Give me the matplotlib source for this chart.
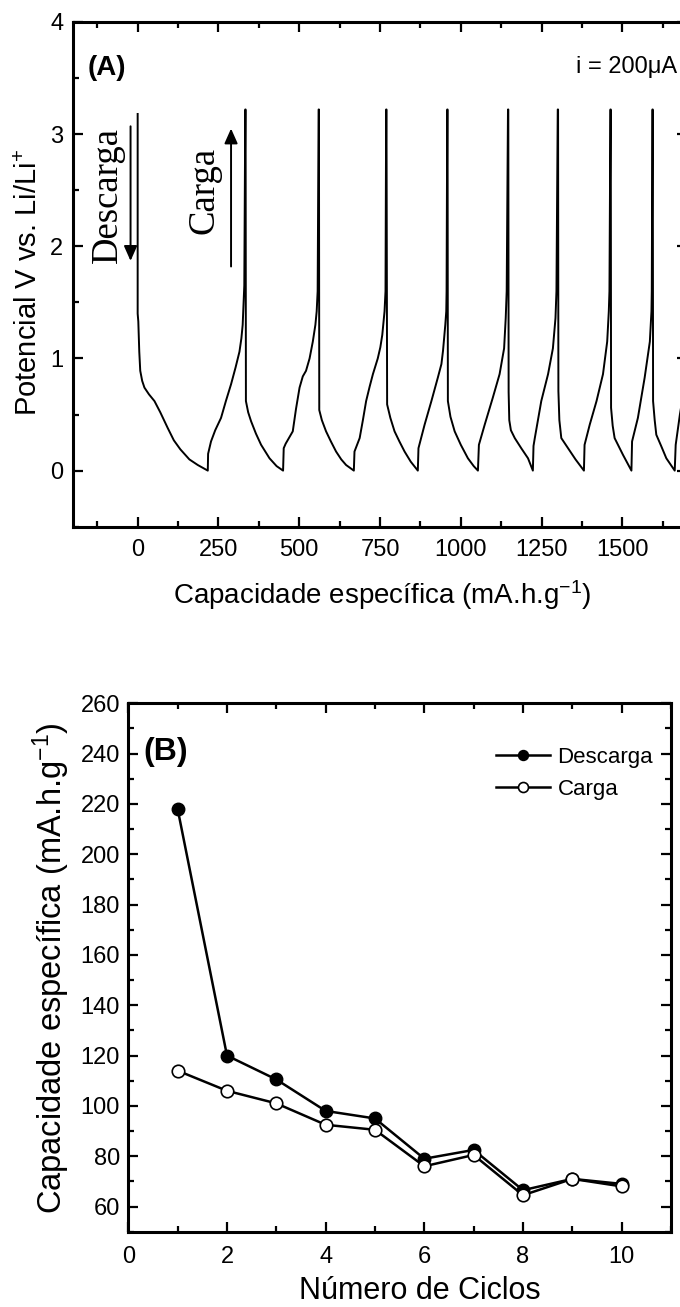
import matplotlib
matplotlib.use('Agg')
import matplotlib.pyplot as plt
from matplotlib.ticker import MultipleLocator

plt.rcParams['font.family'] = ['Liberation Sans', 'DejaVu Sans']
plt.rcParams['mathtext.fontset'] = 'custom'
plt.rcParams['mathtext.rm'] = 'Liberation Sans'
plt.rcParams['mathtext.it'] = 'Liberation Sans:italic'
plt.rcParams['mathtext.bf'] = 'Liberation Sans:bold'

# (A) galvanostatic curve (capacity in mA.h/g, potential in V)
cap_A = [
    # discharge 1
    0, 0, 2, 5, 8, 14, 21, 35, 52, 70, 93, 112, 132, 160, 186, 217,
    # charge 1
    218, 222, 227, 240, 258, 273, 289, 303, 315, 321, 325, 328, 330, 333,
    # discharge 2
    334, 335, 342, 351, 366, 382, 408, 430, 450,
    # charge 2
    452, 458, 480, 490, 501, 511, 521, 532, 542, 550, 554, 557, 560,
    # discharge 3
    561, 562, 570, 583, 598, 614, 630, 645, 669,
    # charge 3
    671, 687, 697, 707, 718, 728, 743, 751, 757, 764, 767, 769,
    # discharge 4
    770, 772, 782, 795, 810, 826, 845, 867,
    # charge 4
    869, 878, 888, 909, 929, 940, 945, 952, 955, 956, 958,
    # discharge 5
    959, 960, 968, 981, 1000, 1022, 1040, 1053,
    # charge 5
    1056, 1065, 1074, 1099, 1120, 1134, 1139, 1142, 1146,
    # discharge 6
    1147, 1148, 1150, 1155, 1167, 1187, 1208, 1223,
    # charge 6
    1225, 1229, 1249, 1270, 1285, 1293, 1296, 1300,
    # discharge 7
    1301, 1302, 1305, 1311, 1332, 1355, 1381,
    # charge 7
    1383, 1399, 1420, 1440, 1453, 1458, 1460, 1463,
    # discharge 8
    1464, 1465, 1470, 1476, 1502, 1528,
    # charge 8
    1530, 1548, 1569, 1585, 1590, 1591, 1593,
    # discharge 9
    1594, 1595, 1600, 1605, 1620, 1636, 1662,
    # charge 9
    1665, 1678, 1695, 1715, 1725, 1730,
]
pot_A = [
    3.18, 1.40, 1.33, 1.06, 0.89, 0.80, 0.74, 0.68, 0.62, 0.52, 0.38, 0.27, 0.19, 0.10, 0.05, 0.0,
    0.15, 0.20, 0.26, 0.36, 0.47, 0.62, 0.77, 0.92, 1.06, 1.18, 1.30, 1.50, 1.65, 3.22,
    3.22, 0.62, 0.52, 0.44, 0.33, 0.23, 0.11, 0.04, 0.0,
    0.20, 0.24, 0.35, 0.55, 0.74, 0.84, 0.89, 1.00, 1.15, 1.30, 1.42, 1.60, 3.22,
    3.22, 0.54, 0.45, 0.35, 0.26, 0.17, 0.10, 0.05, 0.0,
    0.17, 0.29, 0.45, 0.62, 0.75, 0.86, 1.00, 1.10, 1.21, 1.42, 1.60, 3.22,
    3.22, 0.59, 0.47, 0.35, 0.26, 0.17, 0.08, 0.0,
    0.20, 0.30, 0.41, 0.62, 0.83, 0.95, 1.07, 1.30, 1.42, 1.60, 3.22,
    3.22, 0.62, 0.48, 0.35, 0.23, 0.11, 0.04, 0.0,
    0.23, 0.32, 0.41, 0.65, 0.86, 1.09, 1.36, 1.60, 3.22,
    3.22, 0.70, 0.45, 0.36, 0.29, 0.20, 0.11, 0.0,
    0.22, 0.29, 0.62, 0.86, 1.09, 1.36, 1.60, 3.22,
    3.22, 0.71, 0.45, 0.29, 0.20, 0.10, 0.0,
    0.23, 0.41, 0.62, 0.86, 1.15, 1.42, 1.60, 3.22,
    3.22, 0.56, 0.40, 0.29, 0.14, 0.0,
    0.26, 0.47, 0.83, 1.15, 1.42, 1.60, 3.22,
    3.22, 0.62, 0.45, 0.32, 0.22, 0.11, 0.0,
    0.23, 0.50, 0.80, 1.15, 1.50, 3.22,
]

# (B) capacity per cycle
ciclos = [1, 2, 3, 4, 5, 6, 7, 8, 9, 10]
descarga = [218, 120, 110.5, 98, 95, 79, 82.5, 66.5, 71, 69]
carga = [114, 106, 101, 92.5, 90.5, 76, 80.5, 64.5, 71, 68]

fig = plt.figure(figsize=(6.8, 13.07), dpi=100)

# ---------------- panel A ----------------
axA = fig.add_axes([0.1074, 0.59702, 0.9029, 0.38615])
axA.plot(cap_A, pot_A, color='black', lw=1.4)
axA.set_xlim(-200, 1700)
axA.set_ylim(-0.5, 4)
axA.xaxis.set_major_locator(MultipleLocator(250))
axA.xaxis.set_minor_locator(MultipleLocator(125))
axA.yaxis.set_major_locator(MultipleLocator(1))
axA.yaxis.set_minor_locator(MultipleLocator(0.5))
axA.tick_params(which='both', direction='in', top=True, right=True, width=1.6)
axA.tick_params(which='major', length=7, labelsize=17)
axA.tick_params(which='minor', length=4)
axA.tick_params(axis='x', pad=9)
axA.tick_params(axis='y', pad=7)
for s in axA.spines.values():
    s.set_linewidth(2.2)

axA.set_xlabel('Capacidade específica (mA.h.g$^{-1}$)', fontsize=20)
axA.xaxis.set_label_coords(0.504, -0.102)
axA.set_ylabel('Potencial V vs. Li/Li$^{+}$', fontsize=21)
axA.yaxis.set_label_coords(-0.049, 0.484)

axA.text(-156, 3.59, '(A)', fontsize=20, fontweight='bold', ha='left', va='center')
axA.text(1668, 3.6, 'i = 200μA', fontsize=17, ha='right', va='center')

axA.text(-93, 2.46, 'Descarga', rotation=90, ha='center', va='center',
         family='Liberation Serif', fontsize=26.5)
axA.text(206, 2.50, 'Carga', rotation=90, ha='center', va='center',
         family='Liberation Serif', fontsize=26.5)
arr = dict(arrowstyle='-|>,head_length=0.9,head_width=0.4', color='black',
           lw=1.4, shrinkA=0, shrinkB=0, mutation_scale=10)
axA.annotate('', xy=(-22, 1.87), xytext=(-22, 3.07), arrowprops=arr)
axA.annotate('', xy=(289, 3.05), xytext=(289, 1.82), arrowprops=arr)

# ---------------- panel B ----------------
axB = fig.add_axes([0.18868, 0.05761, 0.79808, 0.40429])
axB.plot(ciclos, descarga, '-o', color='black', mfc='black', mec='black',
         ms=9, lw=1.8, label='Descarga')
axB.plot(ciclos, carga, '-o', color='black', mfc='white', mec='black',
         ms=9, mew=1.2, lw=1.8, label='Carga')
axB.set_xlim(0, 11)
axB.set_ylim(50, 260)
axB.xaxis.set_major_locator(MultipleLocator(2))
axB.xaxis.set_minor_locator(MultipleLocator(1))
axB.yaxis.set_major_locator(MultipleLocator(20))
axB.yaxis.set_minor_locator(MultipleLocator(10))
axB.tick_params(which='both', direction='in', top=True, right=True, width=1.6)
axB.tick_params(which='major', length=7, labelsize=17)
axB.tick_params(which='minor', length=4)
axB.tick_params(axis='x', pad=10)
axB.tick_params(axis='y', pad=6)
for s in axB.spines.values():
    s.set_linewidth(2.2)

axB.set_xlabel('Número de Ciclos', fontsize=22)
axB.xaxis.set_label_coords(0.5375, -0.084)
axB.set_ylabel('Capacidade específica (mA.h.g$^{-1}$)', fontsize=23.5)
axB.yaxis.set_label_coords(-0.104, 0.498)

axB.text(0.3, 240.5, '(B)', fontsize=23, fontweight='bold', ha='left', va='center')
axB.legend(loc='upper right', bbox_to_anchor=(0.967, 0.917), frameon=False,
           fontsize=16, handlelength=2.4, handletextpad=0.35, labelspacing=0.5,
           borderpad=0, borderaxespad=0, markerscale=0.8)

fig.savefig('out.png', dpi=100)
